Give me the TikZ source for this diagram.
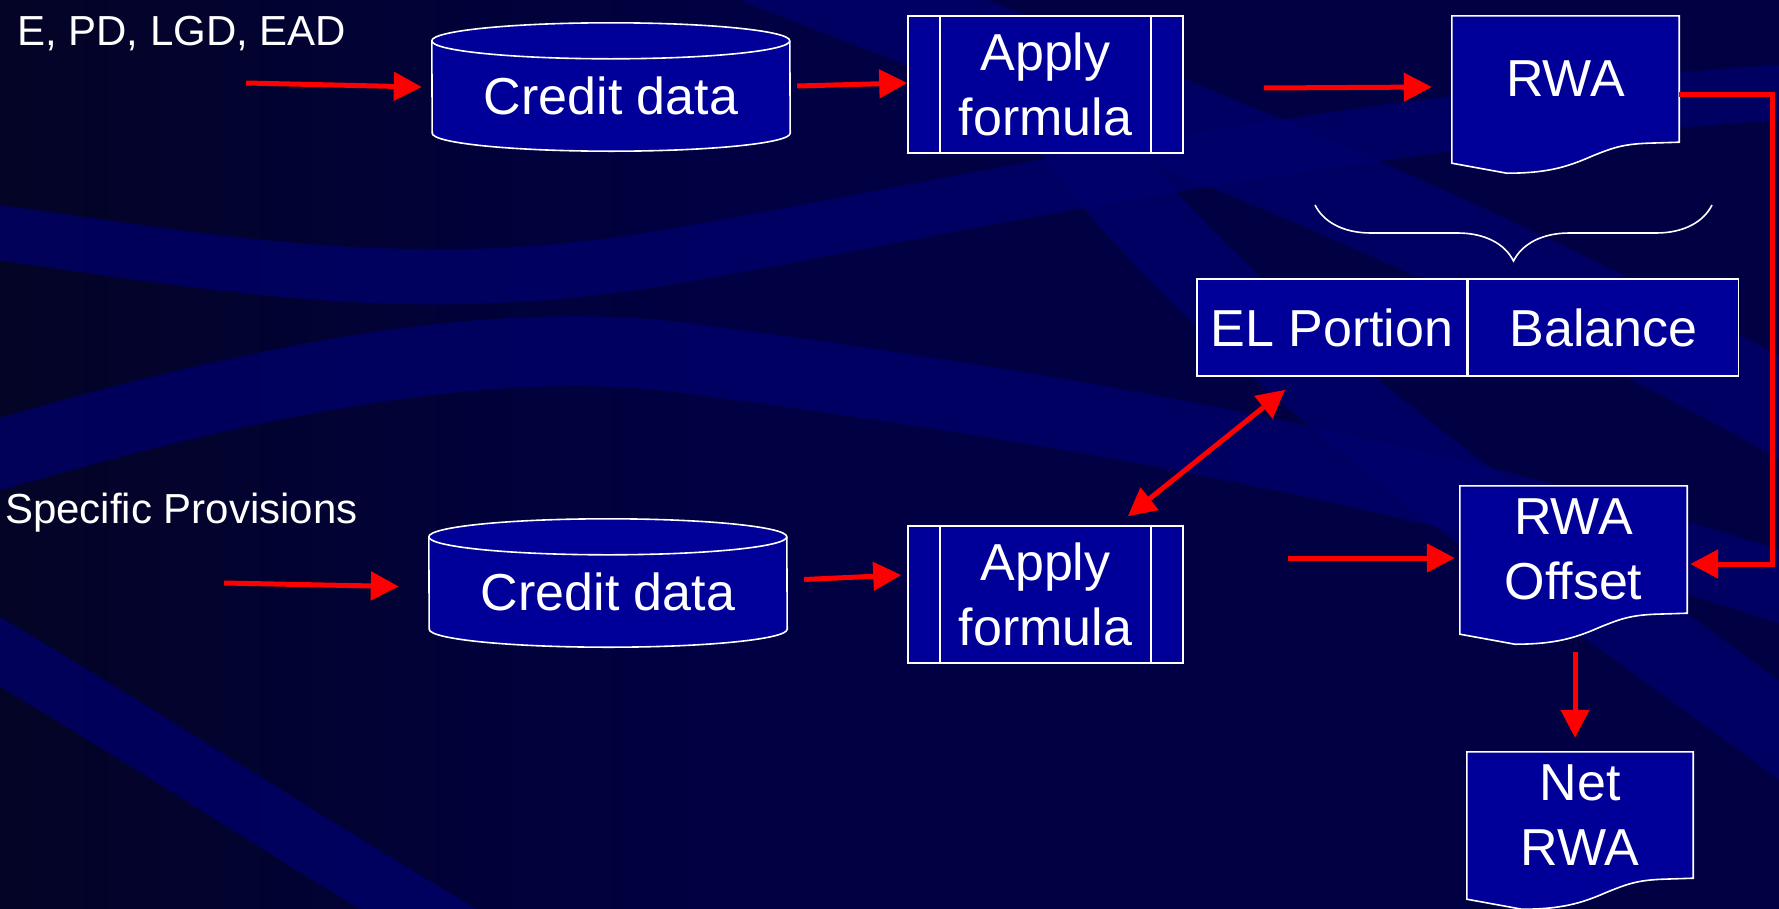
\documentclass[tikz,border=0pt]{standalone}
\usepackage{fontspec}
\setmainfont{Liberation Sans}
\usetikzlibrary{arrows.meta,positioning,decorations.pathreplacing}
\definecolor{slidebg}{RGB}{0,0,66}
\definecolor{slidedark}{RGB}{4,4,38}
\definecolor{slideband}{RGB}{0,0,112}
\definecolor{boxblue}{RGB}{0,0,153}
\pgfdeclarelayer{bands}
\pgfdeclarelayer{shapes}
\pgfsetlayers{bands,shapes,main}
\tikzset{
  boxline/.style={draw=white,line width=1.6pt,fill=boxblue},
  procbox/.style={boxline,text=white,align=center,inner sep=0pt,
    minimum width=275pt,minimum height=137pt,font=\fontsize{52}{65}\selectfont},
  plain/.style={text=white,align=center,inner sep=0pt,font=\fontsize{52}{65}\selectfont},
  flow/.style={red,line width=5pt,-{Triangle[length=28pt,width=28pt]}},
  lbl/.style={text=white,inner sep=0pt,font=\fontsize{42}{50}\selectfont},
  band/.style={slideband,line width=#1,opacity=.7}
}
\begin{document}
\begin{tikzpicture}[x=1pt,y=1pt]
\useasboundingbox (0,0) rectangle (1779,-908);
% background of the slide
\begin{pgfonlayer}{bands}
\fill[slidebg] (-5,5) rectangle (1784,-913);
\shade[left color=slidedark,right color=slidebg] (-5,5) rectangle (700,-913);
\clip (0,0) rectangle (1779,-908);
\draw[band=55pt] (-20,-230) .. controls (200,-260) and (400,-300) .. (650,-260)
  .. controls (900,-220) and (1300,-120) .. (1820,-90);
\draw[band=70pt] (-20,-460) .. controls (250,-380) and (500,-330) .. (700,-360)
  .. controls (1000,-400) and (1400,-460) .. (1820,-600);
\draw[band=60pt] (-20,-640) .. controls (150,-740) and (300,-840) .. (470,-940);
\draw[band=90pt] (760,40) .. controls (1200,-130) and (1500,-250) .. (1820,-430);
\draw[band=80pt] (1045,-90) .. controls (1200,-330) and (1550,-560) .. (1820,-760);
\end{pgfonlayer}

% input labels
\node[lbl,anchor=base west] (inA) at (17,-45) {E, PD, LGD, EAD};
\node[lbl,anchor=base west] (inB) at (5,-523) {Specific Provisions};
\coordinate (srcA) at (246,-83);
\coordinate (srcB) at (224,-583);

% credit data stores
\node[plain,minimum width=358pt,minimum height=110pt] (cd1) at (611,-96) {Credit data};
\node[plain,minimum width=358pt,minimum height=110pt] (cd2) at (608,-592) {Credit data};
\begin{pgfonlayer}{shapes}
\foreach \n in {cd1,cd2}{
  \filldraw[boxline] (\n.north west) arc[start angle=180,end angle=0,x radius=179pt,y radius=18pt]
    -- ([yshift=18pt]\n.south east) arc[start angle=0,end angle=-180,x radius=179pt,y radius=18pt] -- cycle;
  \draw[white,line width=1.6pt] (\n.north west) arc[start angle=180,end angle=360,x radius=179pt,y radius=18pt];
}
\end{pgfonlayer}

% formula steps
\node[procbox] (pr1) at (1045.5,-84.5) {Apply\\formula};
\node[procbox] (pr2) at (1045.5,-594.5) {Apply\\formula};
\foreach \n in {pr1,pr2}
  \draw[white,line width=1.6pt] ([xshift=33pt]\n.north west) -- ([xshift=33pt]\n.south west)
    ([xshift=-33pt]\n.north east) -- ([xshift=-33pt]\n.south east);

% documents
\node[plain,minimum width=227pt,minimum height=126pt] (rwa) at (1565.5,-79) {RWA};
\node[plain,minimum width=227pt,minimum height=127pt] (offset) at (1573.5,-549.5) {RWA\\Offset};
\node[plain,minimum width=226pt,minimum height=126pt] (net) at (1580,-815) {Net\\RWA};
\begin{pgfonlayer}{shapes}
\foreach \n in {rwa,offset,net}{
  \begin{scope}[shift={(\n.south west)}]
  \filldraw[boxline] (\n.north west) -- (\n.north east) -- (\n.south east) -- (196,-1)
    .. controls (170,-2) and (160,-6) .. (140,-14)
    .. controls (115,-25) and (95,-31) .. (55,-31) -- (0,-21) -- cycle;
  \end{scope}
}
\end{pgfonlayer}

% split of RWA
\node[procbox,minimum width=270pt,minimum height=97pt] (el) at (1332,-327.5) {EL Portion};
\node[procbox,minimum width=270pt,minimum height=97pt,right=0pt of el] (bal) {Balance};
\draw[white,line width=1.6pt,decorate,decoration={brace,amplitude=56pt,mirror}]
  (1315,-205) -- (1712,-205);

% connectors
\draw[flow] (srcA) -- ([shift={(-10pt,9pt)}]cd1.west);
\draw[flow] ([shift={(7pt,10pt)}]cd1.east) -- ([yshift=1.5pt]pr1.west);
\draw[flow] ([shift={(80pt,-3.5pt)}]pr1.east) -- ([shift={(-20pt,-8pt)}]rwa.west);
\draw[flow] (srcB) -- ([shift={(-30pt,5.5pt)}]cd2.west);
\draw[flow] ([shift={(17pt,12.5pt)}]cd2.east) -- ([shift={(-6pt,19.5pt)}]pr2.west);
\draw[flow] ([shift={(104pt,36.5pt)}]pr2.east) -- ([shift={(-5pt,-8.5pt)}]offset.west);
\draw[flow,{Triangle[length=28pt,width=28pt]}-{Triangle[length=28pt,width=28pt]}]
  ([shift={(-56pt,9pt)}]pr2.north east) -- ([shift={(89pt,-13pt)}]el.south west);
\draw[flow] ([yshift=-15pt]rwa.east) -- ++(93pt,0) |- ([shift={(3pt,-14.5pt)}]offset.east);
\draw[flow] ([shift={(1.5pt,-39pt)}]offset.south) -- ([shift={(-5pt,14pt)}]net.north);
\end{tikzpicture}
\end{document}
